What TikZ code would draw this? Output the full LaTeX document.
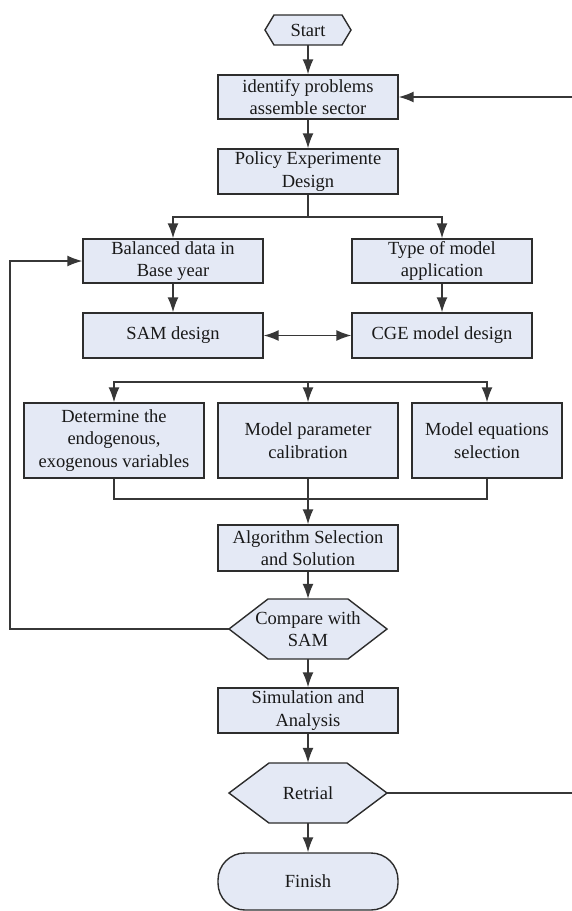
\documentclass[tikz,border=0pt]{standalone}
\usepackage{fontspec}
\setmainfont{Liberation Serif}
\newfontfamily\tfont{Liberation Serif}
\usetikzlibrary{arrows.meta,calc}
\definecolor{boxfill}{RGB}{228,233,245}
\definecolor{edgecol}{RGB}{45,45,45}
\definecolor{conncol}{RGB}{55,55,55}
\begin{document}
\begin{tikzpicture}[x=1pt,y=-1pt,
 txt/.style={font=\tfont\fontsize{18.5}{22.5}\selectfont, text=black!90, align=center, inner sep=0pt},
 procbox/.style={txt, draw=edgecol, fill=boxfill, line width=1.4pt, minimum width=180pt, minimum height=45pt},
 hexshape/.style={draw=edgecol, fill=boxfill, line width=1.4pt},
 conn/.style={draw=conncol, line width=1.5pt},
 tip/.tip={Latex[length=15pt,width=11pt]},
 arr/.style={conn, -tip},
]
\useasboundingbox (0,0) rectangle (572,911);
\fill[white] (0,0) rectangle (572,911);

% hexagons
\draw[hexshape] (265,30) -- (274,15) -- (342,15) -- (351,30) -- (342,45) -- (274,45) -- cycle;
\node[txt, minimum width=68pt, minimum height=30pt] (start) at (308,30) {Start};

\draw[hexshape] (229,629) -- (268,599) -- (348,599) -- (387,629) -- (348,659) -- (268,659) -- cycle;
\node[txt, minimum width=80pt, minimum height=60pt] (cmp) at (308,629) {Compare with\\SAM};
\coordinate (cmpW) at (229,629);

\draw[hexshape] (229,793) -- (269,763) -- (347,763) -- (387,793) -- (347,823) -- (269,823) -- cycle;
\node[txt, minimum width=78pt, minimum height=60pt] (ret) at (308,793) {Retrial};
\coordinate (retE) at (387,793);

% boxes
\node[procbox, minimum height=44pt] (ident) at (308,97) {identify problems\\assemble sector};
\node[procbox] (policy) at (308,171.5) {Policy Experimente\\Design};
\node[procbox, minimum height=44pt] (bal) at (173,261) {Balanced data in\\Base year};
\node[procbox, minimum height=44pt] (type) at (442,261) {Type of model\\application};
\node[procbox] (sam) at (173,335.5) {SAM design};
\node[procbox] (cge) at (442,335.5) {CGE model design};
\node[procbox, minimum height=75pt] (det) at (114,440.5) {Determine the\\endogenous,\\exogenous variables};
\node[procbox, minimum height=75pt] (param) at (308,440.5) {Model parameter\\calibration};
\node[procbox, minimum height=75pt, minimum width=150pt] (eq) at (487,440.5) {Model equations\\selection};
\node[procbox, minimum height=46pt] (alg) at (308,548) {Algorithm Selection\\and Solution};
\node[procbox] (sim) at (308,710.5) {Simulation and\\Analysis};
\node[procbox, minimum height=57pt, rounded corners=27pt] (fin) at (308,881.5) {Finish};

% branch points
\coordinate (b1) at (308,217);
\coordinate (b2) at (308,382);
\coordinate (m) at (308,499);

% connectors
\draw[arr] (start.south) -- (ident.north);
\draw[arr] (ident.south) -- (policy.north);
\draw[conn] (policy.south) -- (b1);
\draw[arr] (b1) -| (bal.north);
\draw[arr] (b1) -| (type.north);
\draw[arr] (bal.south) -- (sam.north);
\draw[arr] (type.south) -- (cge.north);
\draw[conn, tip-tip] (sam.east) -- (cge.west);
\draw[arr] (b2) -| (det.north);
\draw[arr] (b2) -| (eq.north);
\draw[arr] (b2) -- (param.north);
\draw[conn] (det.south) |- (m);
\draw[conn] (eq.south) |- (m);
\draw[arr] (param.south) -- (alg.north);
\draw[arr] (alg.south) -- (cmp.north);
\draw[arr] (cmp.south) -- (sim.north);
\draw[arr] (sim.south) -- (ret.north);
\draw[arr] (ret.south) -- (fin.north);
\draw[arr] (cmpW) -- ++(-219,0) |- (bal.west);
\draw[arr] (retE) -- (580,793) |- (ident.east);
\end{tikzpicture}
\end{document}
